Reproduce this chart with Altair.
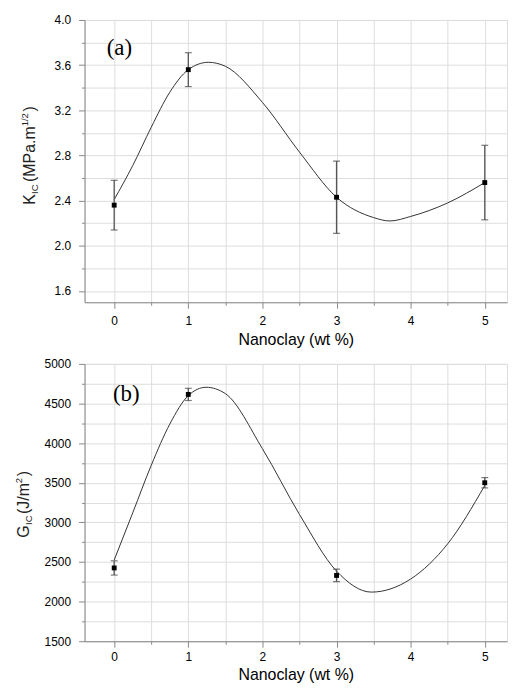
import altair as alt
import pandas as pd

# ---- data ----
x_pts = [0, 1, 3, 5]
k_ic = [2.36, 3.56, 2.43, 2.56]
k_lo = [2.14, 3.41, 2.11, 2.23]
k_hi = [2.58, 3.71, 2.75, 2.89]

g_ic = [2425, 4615, 2330, 3500]
g_lo = [2335, 4538, 2252, 3435]
g_hi = [2515, 4692, 2410, 3565]

k_curve_x = [0, 0.25, 0.5, 0.75, 1, 1.27, 1.5, 2, 2.5, 3, 3.5, 3.72, 4, 4.5, 5]
k_curve_y = [2.41, 2.71, 3.05, 3.36, 3.56, 3.625, 3.59, 3.27, 2.83, 2.43, 2.25, 2.22, 2.26, 2.38, 2.56]

g_curve_x = [0, 0.25, 0.5, 0.75, 1, 1.24, 1.5, 2, 2.5, 3, 3.47, 4, 4.5, 5]
g_curve_y = [2525, 3120, 3720, 4240, 4600, 4705, 4625, 3930, 3100, 2385, 2120, 2285, 2730, 3465]

x_ticks = [0, 0.5, 1, 1.5, 2, 2.5, 3, 3.5, 4, 4.5, 5]
k_ticks = [1.6, 1.8, 2.0, 2.2, 2.4, 2.6, 2.8, 3.0, 3.2, 3.4, 3.6, 3.8, 4.0]
g_ticks = [1500, 1750, 2000, 2250, 2500, 2750, 3000, 3250, 3500, 3750, 4000, 4250, 4500, 4750, 5000]

x_title = "Nanoclay (wt %)"
k_title = [("K", "n"), ("IC", "sub"), ("(MPa.m", "n"), ("1/2", "sup"), (")", "n")]
g_title = [("G", "n"), ("IC", "sub"), ("(J/m", "n"), ("2", "sup"), (")", "n")]

W = 425
FONT = "Liberation Sans"


def panel(y_pts, lo, hi, cx, cy, ydomain, yticks, major_test, label_expr,
          tag, tag_pos, title_pieces, title_x, title_starts, h, lab_pad, tit_pad):
    pts = pd.DataFrame({"x": x_pts, "y": y_pts, "lo": lo, "hi": hi})
    crv = pd.DataFrame({"x": cx, "y": cy})
    xs = alt.Scale(domain=[-0.4, 5.3], nice=False, zero=False)
    ys = alt.Scale(domain=ydomain, nice=False, zero=False)
    xaxis = alt.Axis(
        values=x_ticks, title=x_title,
        labelExpr="datum.value % 1 == 0 ? format(datum.value, 'd') : ''",
        tickSize={"condition": {"test": "datum.value % 1 == 0", "value": 6}, "value": 3},
        labelPadding=lab_pad, titlePadding=tit_pad, labelFontSize=12, titleFontSize=16,
        titleFontWeight="normal", labelFlush=False, labelOverlap=False,
    )
    yaxis = alt.Axis(
        values=yticks, title=None, labelExpr=label_expr,
        tickSize={"condition": {"test": major_test, "value": 6}, "value": 3},
        labelPadding=8, labelFontSize=12, labelFlush=False, labelOverlap=False,
    )
    X = alt.X("x:Q", scale=xs, axis=xaxis)
    Y = alt.Y("y:Q", scale=ys, axis=yaxis)

    curve = alt.Chart(crv).mark_line(interpolate="monotone", color="#333", strokeWidth=1).encode(x=X, y=Y)
    bars = alt.Chart(pts).mark_rule(color="#555", strokeWidth=1.3).encode(
        x=X, y=alt.Y("lo:Q", scale=ys, axis=yaxis), y2="hi:Q")
    cap_lo = alt.Chart(pts).mark_tick(orient="horizontal", color="#444", size=7, thickness=1.2).encode(
        x=X, y=alt.Y("lo:Q", scale=ys, axis=yaxis))
    cap_hi = alt.Chart(pts).mark_tick(orient="horizontal", color="#444", size=7, thickness=1.2).encode(
        x=X, y=alt.Y("hi:Q", scale=ys, axis=yaxis))
    dots = alt.Chart(pts).mark_square(size=24, color="black", opacity=1).encode(x=X, y=Y)

    tag_txt = alt.Chart(pd.DataFrame({"t": [tag]})).mark_text(
        font="Liberation Serif", fontSize=23, color="black", align="center", baseline="middle"
    ).encode(text="t:N", x=alt.value(tag_pos[0]), y=alt.value(tag_pos[1]))

    layers = [curve, bars, cap_lo, cap_hi, dots, tag_txt]
    for (txt, kind), start in zip(title_pieces, title_starts):
        size = 16 if kind == "n" else 9.5
        dx = 0 if kind == "n" else (5 if kind == "sub" else -5)
        layers.append(
            alt.Chart(pd.DataFrame({"t": [txt]})).mark_text(
                font=FONT, fontSize=size, color="#222", angle=270, align="left", baseline="middle"
            ).encode(text="t:N", x=alt.value(title_x + dx), y=alt.value(start))
        )
    return alt.layer(*layers).properties(width=W, height=h)


top = panel(k_ic, k_lo, k_hi, k_curve_x, k_curve_y, [1.5, 4.0], k_ticks,
            "round(datum.value * 10) % 4 == 0",
            "round(datum.value * 10) % 4 == 0 ? format(datum.value, '.1f') : ''",
            "(a)", (35, 28), k_title, -55, [186, 175, 163, 107, 92], 284, 7, 5)

bottom = panel(g_ic, g_lo, g_hi, g_curve_x, g_curve_y, [1500, 5000], g_ticks,
               "datum.value % 500 == 0",
               "datum.value % 500 == 0 ? format(datum.value, 'd') : ''",
               "(b)", (42, 30), g_title, -61, [175, 162, 151, 120, 113], 279, 4, 5)

chart = alt.vconcat(top, bottom, spacing=9).properties(
    padding={"left": 5, "top": 3, "right": 0, "bottom": 0}
).configure_view(stroke="#333", strokeWidth=1).configure_axis(
    domainColor="#333", tickColor="#333", labelColor="#222", titleColor="#222",
    labelFont=FONT, titleFont=FONT, titleFontWeight="normal", grid=False,
).configure(background="white")

chart.save("out.html", embed_options={"renderer": "svg", "actions": False})
